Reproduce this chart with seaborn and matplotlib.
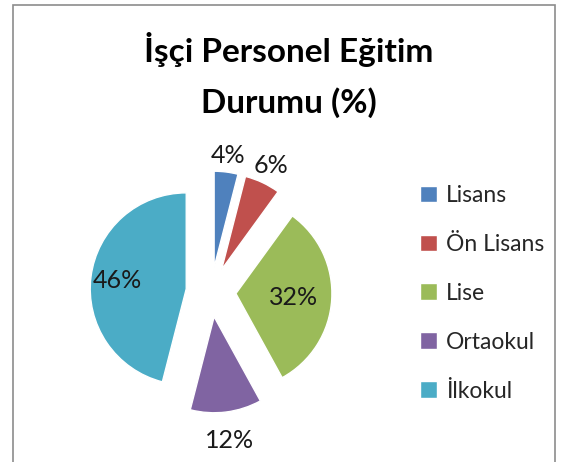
import numpy as np
import seaborn as sns
import matplotlib.pyplot as plt
from matplotlib.patches import Rectangle

# veriler
kategoriler = ["Lisans", "Ön Lisans", "Lise", "Ortaokul", "İlkokul"]
yuzdeler = [4, 6, 32, 12, 46]
etiketler = ["4%", "6%", "32%", "12%", "46%"]

sns.set_theme(style="white")
plt.rcParams['font.family'] = ['Lato', 'DejaVu Sans']

renkler = ["#4F81BD", "#C0504D", "#9BBB59", "#8064A2", "#4BACC6"]

fig = plt.figure(figsize=(5.72, 4.62), dpi=100)
fig.patches.append(Rectangle((13 / 572, -0.1), 542 / 572, 1.1 - 5 / 462,
                             transform=fig.transFigure, fill=False,
                             edgecolor="#8c8c8c", linewidth=1.2))

ax = fig.add_axes([67 / 572, 26 / 462, 288 / 572, 288 / 462])
wedges, _ = ax.pie(yuzdeler, colors=renkler, startangle=90, counterclock=False,
                   explode=[0.26] * 5, radius=1.0)
ax.set_xlim(-1.5, 1.5)
ax.set_ylim(-1.5, 1.5)
ax.set_aspect('equal')
ax.axis('off')

# etiket konumu: dilim merkezine göre yarıçap katsayısı
uzaklik = [1.17, 1.2, 0.6, 1.3, 0.72]
for w, txt, d in zip(wedges, etiketler, uzaklik):
    aci = np.deg2rad((w.theta1 + w.theta2) / 2)
    cx, cy = w.center
    ax.text(cx + d * np.cos(aci), cy + d * np.sin(aci), txt,
            ha='center', va='center', fontsize=18, color="#1a1a1a")

fig.text(0.505, 0.892, "İşçi Personel Eğitim", ha='center', va='center',
         fontsize=24, fontweight='bold', color="black")
fig.text(0.505, 0.778, "Durumu (%)", ha='center', va='center',
         fontsize=24, fontweight='bold', color="black")

fig.legend(wedges, kategoriler, loc='center left', bbox_to_anchor=(0.698, 0.365),
           frameon=False, fontsize=16.5, handlelength=0.75, handleheight=0.75,
           labelspacing=1.22, handletextpad=0.4)

plt.savefig("out.png", dpi=100)
